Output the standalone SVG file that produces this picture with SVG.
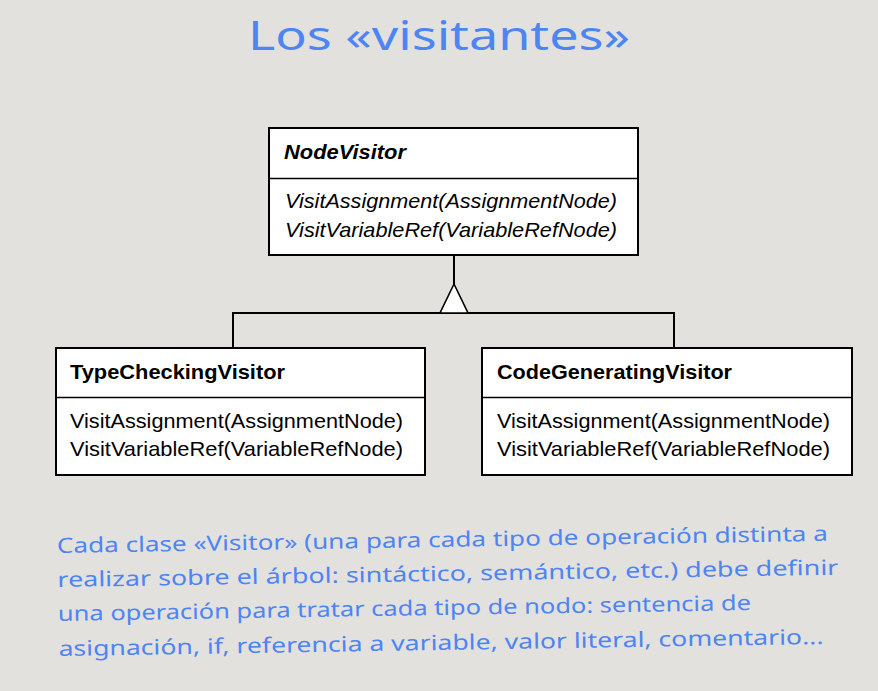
<svg xmlns="http://www.w3.org/2000/svg" width="878" height="691" viewBox="0 0 878 691">
<style>
.box{fill:#fff;stroke:#000;stroke-width:2}
.div{stroke:#000;stroke-width:1.6}
.t{font-family:"Liberation Sans",Arial,sans-serif;font-size:21px;fill:#000}
.b{font-weight:bold}
.i{font-style:italic}
.conn{fill:none;stroke:#000;stroke-width:2}
.hand{font-family:"Noto Sans","DejaVu Sans",sans-serif;fill:#4d85f2}
</style>
<rect width="878" height="691" fill="#e3e1de"/>
<text class="hand" x="248" y="50" font-size="40" textLength="382" lengthAdjust="spacingAndGlyphs">Los «visitantes»</text>
<g id="connectors">
<path class="conn" d="M454 255 V285 M233 348 V313 H674 V348"/>
<polygon points="454,284 440,313 468,313" fill="#fff" stroke="#000" stroke-width="1.6"/>
</g>
<g id="NodeVisitor">
<rect class="box" x="269" y="128" width="369" height="127"/>
<line class="div" x1="269" y1="178.5" x2="638" y2="178.5"/>
<text class="t b i" x="284" y="159" textLength="122" lengthAdjust="spacingAndGlyphs">NodeVisitor</text>
<text class="t i" x="285" y="208" textLength="332" lengthAdjust="spacingAndGlyphs">VisitAssignment(AssignmentNode)</text>
<text class="t i" x="285" y="237" textLength="332" lengthAdjust="spacingAndGlyphs">VisitVariableRef(VariableRefNode)</text>
</g>
<g id="TypeCheckingVisitor">
<rect class="box" x="56" y="348" width="369" height="127"/>
<line class="div" x1="56" y1="397.5" x2="425" y2="397.5"/>
<text class="t b" x="70" y="379" textLength="215" lengthAdjust="spacingAndGlyphs">TypeCheckingVisitor</text>
<text class="t" x="70" y="428" textLength="333" lengthAdjust="spacingAndGlyphs">VisitAssignment(AssignmentNode)</text>
<text class="t" x="70" y="456" textLength="333" lengthAdjust="spacingAndGlyphs">VisitVariableRef(VariableRefNode)</text>
</g>
<g id="CodeGeneratingVisitor">
<rect class="box" x="482" y="348" width="370" height="127"/>
<line class="div" x1="482" y1="397.5" x2="852" y2="397.5"/>
<text class="t b" x="497" y="379" textLength="235" lengthAdjust="spacingAndGlyphs">CodeGeneratingVisitor</text>
<text class="t" x="497" y="428" textLength="333" lengthAdjust="spacingAndGlyphs">VisitAssignment(AssignmentNode)</text>
<text class="t" x="497" y="456" textLength="333" lengthAdjust="spacingAndGlyphs">VisitVariableRef(VariableRefNode)</text>
</g>
<g transform="rotate(-0.9 57 552)" font-size="21">
<text class="hand" x="57" y="553" textLength="771" lengthAdjust="spacingAndGlyphs">Cada clase «Visitor» (una para cada tipo de operación distinta a</text>
<text class="hand" x="57" y="587" textLength="781" lengthAdjust="spacingAndGlyphs">realizar sobre el árbol: sintáctico, semántico, etc.) debe definir</text>
<text class="hand" x="57" y="621" textLength="693" lengthAdjust="spacingAndGlyphs">una operación para tratar cada tipo de nodo: sentencia de</text>
<text class="hand" x="57" y="656" textLength="765" lengthAdjust="spacingAndGlyphs">asignación, if, referencia a variable, valor literal, comentario...</text>
</g>
</svg>
